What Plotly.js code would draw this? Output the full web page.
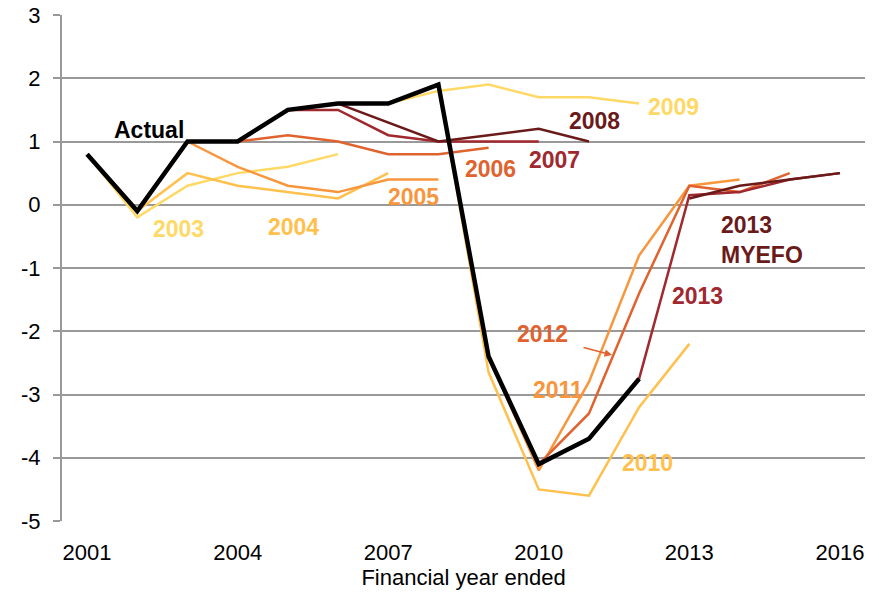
<!DOCTYPE html>
<html>
<head>
<meta charset="utf-8">
<script src="https://cdn.plot.ly/plotly-3.0.1.min.js"></script>
<style>html,body{margin:0;padding:0;background:#fff;}#chart{width:879px;height:595px;}</style>
</head>
<body>
<div id="chart"></div>
<script>
// Underlying cash balance forecasts (% of GDP), by budget vintage
const actualYears = [2001,2002,2003,2004,2005,2006,2007,2008,2009,2010,2011,2012];
const actualVals  = [0.8,-0.1,1.0,1.0,1.5,1.6,1.6,1.9,-2.4,-4.1,-3.7,-2.75];

const b2003Years = [2001,2002,2003,2004,2005,2006];
const b2003Vals  = [0.8,-0.2,0.3,0.5,0.6,0.8];
const b2004Years = [2002,2003,2004,2005,2006,2007];
const b2004Vals  = [-0.1,0.5,0.3,0.2,0.1,0.5];
const b2005Years = [2003,2004,2005,2006,2007,2008];
const b2005Vals  = [1.0,0.6,0.3,0.2,0.4,0.4];
const b2006Years = [2004,2005,2006,2007,2008,2009];
const b2006Vals  = [1.0,1.1,1.0,0.8,0.8,0.9];
const b2007Years = [2005,2006,2007,2008,2009,2010];
const b2007Vals  = [1.5,1.5,1.1,1.0,1.0,1.0];
const b2008Years = [2006,2007,2008,2009,2010,2011];
const b2008Vals  = [1.6,1.3,1.0,1.1,1.2,1.0];
const b2009Years = [2007,2008,2009,2010,2011,2012];
const b2009Vals  = [1.6,1.8,1.9,1.7,1.7,1.6];
const b2010Years = [2008,2009,2010,2011,2012,2013];
const b2010Vals  = [1.9,-2.65,-4.5,-4.6,-3.2,-2.2];
const b2011Years = [2009,2010,2011,2012,2013,2014];
const b2011Vals  = [-2.4,-4.2,-2.8,-0.8,0.3,0.4];
const b2012Years = [2010,2011,2012,2013,2014,2015];
const b2012Vals  = [-4.1,-3.3,-1.4,0.3,0.2,0.5];
const b2013Years = [2011,2012,2013,2014,2015,2016];
const b2013Vals  = [-3.7,-2.75,0.15,0.2,0.4,0.5];
const myefoYears = [2013,2014,2015,2016];
const myefoVals  = [0.1,0.3,0.4,0.5];

const tickYears = [2001,2004,2007,2010,2013,2016];
const yTicks = [-5,-4,-3,-2,-1,0,1,2,3];

const C = {
  yel: '#FFD966', lor: '#FFC04D', org: '#F7963C', rorg: '#E0632F', dred: '#A0282F', mar: '#6B1A1A'
};

function ln(x, y, color, w) {
  return {x: x, y: y, type: 'scatter', mode: 'lines', line: {color: color, width: w || 2.5}, hoverinfo: 'skip', showlegend: false};
}

const data = [
  ln(b2003Years, b2003Vals, C.yel),
  ln(b2004Years, b2004Vals, C.lor),
  ln(b2005Years, b2005Vals, C.org),
  ln(b2006Years, b2006Vals, C.rorg),
  ln(b2007Years, b2007Vals, C.dred),
  ln(b2008Years, b2008Vals, C.mar),
  ln(b2009Years, b2009Vals, C.yel),
  ln(b2010Years, b2010Vals, C.lor),
  ln(b2011Years, b2011Vals, C.org),
  ln(b2012Years, b2012Vals, C.rorg),
  ln(b2013Years, b2013Vals, C.dred),
  ln(myefoYears, myefoVals, C.mar),
  ln(actualYears, actualVals, '#000000', 4.5)
];

const F = 'Liberation Sans, Arial, sans-serif';
function lab(text, x, y, color, align) {
  return {text: text, x: x, y: y, xref: 'x', yref: 'y', showarrow: false,
    xanchor: align || 'center', yanchor: 'middle', align: align || 'center',
    font: {family: F, size: 23, color: color, weight: 'bold'}};
}

const annotations = [
  lab('<b>Actual</b>', 2002.24, 1.18, '#000'),
  lab('<b>2003</b>', 2002.82, -0.38, C.yel),
  lab('<b>2004</b>', 2005.12, -0.35, C.lor),
  lab('<b>2005</b>', 2007.5, 0.12, C.org),
  lab('<b>2006</b>', 2009.04, 0.56, C.rorg),
  lab('<b>2007</b>', 2010.32, 0.71, C.dred),
  lab('<b>2008</b>', 2011.12, 1.32, C.mar),
  lab('<b>2009</b>', 2012.68, 1.54, C.yel),
  lab('<b>2010</b>', 2012.16, -4.08, C.lor),
  lab('<b>2011</b>', 2010.38, -2.93, C.org),
  lab('<b>2012</b>', 2010.08, -2.04, C.rorg),
  lab('<b>2013</b>', 2013.16, -1.44, C.dred),
  lab('<b>2013<br>MYEFO</b>', 2013.6, -0.56, C.mar, 'left'),
  {text: '', x: 2011.46, y: -2.376, xref: 'x', yref: 'y', showarrow: true,
   ax: -30, ay: -8, arrowcolor: C.rorg, arrowwidth: 1.5, arrowhead: 2, arrowsize: 1}
];

const zeroTicks = [];
for (let i = 0; i <= 16; i++) zeroTicks.push(2000.5 + i);

const layout = {
  width: 879, height: 595,
  margin: {l: 62, r: 14, t: 15, b: 74},
  paper_bgcolor: '#fff', plot_bgcolor: '#fff',
  font: {family: F, size: 22, color: '#000'},
  showlegend: false,
  xaxis: {
    range: [2000.5, 2016.5], tickvals: tickYears, ticktext: tickYears.map(String),
    ticks: 'outside', ticklen: 12, tickcolor: 'rgba(0,0,0,0)',
    showgrid: false, zeroline: false, showline: false,
    tickfont: {family: F, size: 22, color: '#000'},
    title: {text: 'Financial year ended', font: {family: F, size: 22, color: '#000'}, standoff: 5}
  },
  xaxis2: {
    overlaying: 'x', anchor: 'free', position: 0.625, side: 'bottom',
    range: [2000.5, 2016.5], tickvals: zeroTicks, showticklabels: false,
    ticks: 'outside', ticklen: 8, tickwidth: 2, tickcolor: '#999',
    showline: true, linecolor: '#999', linewidth: 2, showgrid: false, zeroline: false
  },
  yaxis: {
    range: [-5, 3], tickvals: yTicks, ticktext: yTicks.map(String),
    ticks: 'outside', ticklen: 7, tickwidth: 2, tickcolor: '#999',
    ticklabelstandoff: 8,
    showline: true, linecolor: '#999', linewidth: 2,
    showgrid: true, gridcolor: '#999', gridwidth: 2, zeroline: false,
    tickfont: {family: F, size: 22, color: '#000'}
  },
  annotations: annotations
};

Plotly.newPlot('chart', data, layout, {staticPlot: true, displayModeBar: false});
</script>
</body>
</html>
